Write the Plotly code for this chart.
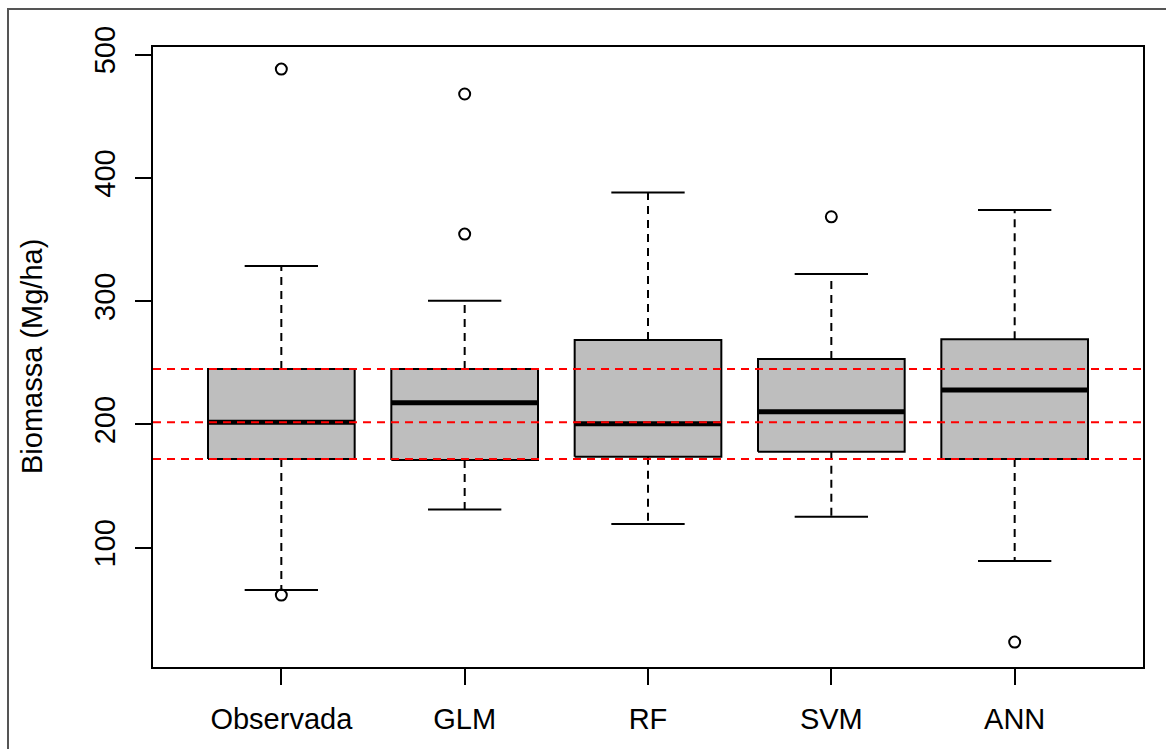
import plotly.graph_objects as go

# Biomass estimates per method (Mg/ha): five-number summaries and outliers
categorias = ["Observada", "GLM", "RF", "SVM", "ANN"]
bigode_inf = [65.7, 131.1, 119.2, 125.1, 89.2]
q1 = [171.9, 171.1, 173.8, 177.9, 171.9]
medianas = [201.7, 217.6, 200.6, 210.3, 227.9]
q3 = [244.9, 244.9, 268.5, 253.0, 269.0]
bigode_sup = [328.5, 300.3, 388.2, 322.0, 373.9]
outliers = [[488.2, 61.6], [468.0, 354.4], [], [368.4], [23.5]]

# Reference lines at the quartiles of the observed biomass
ref_linhas = [q1[0], medianas[0], q3[0]]

yticks = [100, 200, 300, 400, 500]
y_range = [3.3, 506.1]

FONT = "Liberation Sans, Arial, sans-serif"
FS = 29
BOX_FILL = "#BEBEBE"
half = 0.4      # half box width (boxwex 0.8)
cap = 0.2       # half staple width

fig = go.Figure()

for i, nome in enumerate(categorias):
    x = i + 1
    # box body
    fig.add_trace(go.Scatter(
        x=[x - half, x + half, x + half, x - half, x - half],
        y=[q1[i], q1[i], q3[i], q3[i], q1[i]],
        mode="lines", fill="toself", fillcolor=BOX_FILL,
        line=dict(color="black", width=2), hoverinfo="skip", showlegend=False))
    # median
    fig.add_trace(go.Scatter(
        x=[x - half, x + half], y=[medianas[i], medianas[i]],
        mode="lines", line=dict(color="black", width=5),
        hoverinfo="skip", showlegend=False))
    # whiskers (dashed)
    for a, b in [(q1[i], bigode_inf[i]), (q3[i], bigode_sup[i])]:
        fig.add_trace(go.Scatter(
            x=[x, x], y=[a, b], mode="lines",
            line=dict(color="black", width=2, dash="8px,6px"),
            hoverinfo="skip", showlegend=False))
    # staples
    for v in (bigode_inf[i], bigode_sup[i]):
        fig.add_trace(go.Scatter(
            x=[x - cap, x + cap], y=[v, v], mode="lines",
            line=dict(color="black", width=2),
            hoverinfo="skip", showlegend=False))
    # outliers
    if outliers[i]:
        fig.add_trace(go.Scatter(
            x=[x] * len(outliers[i]), y=outliers[i], mode="markers",
            marker=dict(symbol="circle-open", size=11, color="black",
                        line=dict(width=2)),
            showlegend=False))

# red dashed horizontal reference lines across the plot
for v in ref_linhas:
    fig.add_trace(go.Scatter(
        x=[0.3, 5.7], y=[v, v], mode="lines",
        line=dict(color="#FF0000", width=2, dash="8px,6px"),
        hoverinfo="skip", showlegend=False))

fig.update_layout(
    width=1166, height=749,
    margin=dict(l=153, r=23, t=47, b=82),
    paper_bgcolor="white", plot_bgcolor="white",
    font=dict(family=FONT, size=FS, color="black"),
    xaxis=dict(
        range=[0.3, 5.7], tickvals=[1, 2, 3, 4, 5], ticktext=categorias,
        showgrid=False, zeroline=False, showline=True, mirror=True,
        linecolor="black", linewidth=2,
        ticks="outside", ticklen=16, tickwidth=2, tickcolor="black",
        ticklabelstandoff=9,
        tickfont=dict(family=FONT, size=FS, color="black")),
    yaxis=dict(
        range=y_range, tickvals=yticks,
        showgrid=False, zeroline=False, showline=True, mirror=True,
        linecolor="black", linewidth=2,
        ticks="outside", ticklen=16, tickwidth=2, tickcolor="black",
        tickangle=-90, ticklabelstandoff=8,
        tickfont=dict(family=FONT, size=FS, color="black")),
    annotations=[dict(
        text="Biomassa (Mg/ha)", textangle=-90, showarrow=False,
        xref="paper", yref="paper", x=(32 - 153) / 990, y=0.5,
        xanchor="center", yanchor="middle",
        font=dict(family=FONT, size=FS, color="black"))],
    shapes=[dict(
        type="rect", xref="paper", yref="paper",
        x0=(8 - 153) / 990, x1=1.2, y0=-0.3, y1=(667 - 9) / 620,
        line=dict(color="#555555", width=2), fillcolor="rgba(0,0,0,0)")],
)

fig.write_html("out.html")
